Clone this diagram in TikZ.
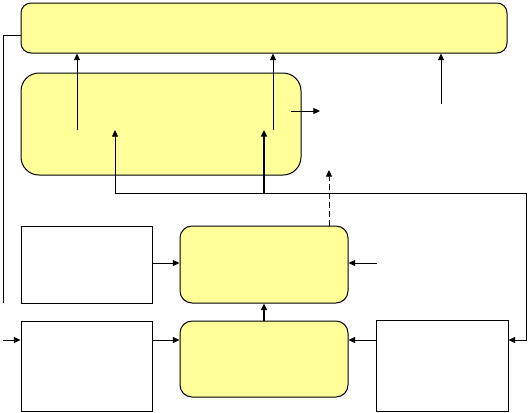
\documentclass[tikz,border=0pt]{standalone}
\usetikzlibrary{arrows.meta}
\definecolor{boxyellow}{RGB}{255,255,153}
\begin{document}
\begin{tikzpicture}[x=0.75pt,y=-0.75pt,
  line width=0.75pt,
  arr/.style={-{Triangle[length=5pt,width=4.5pt]}},
  ybox/.style={draw, fill=boxyellow, line width=0.75pt, inner sep=0pt},
  wbox/.style={draw, fill=white, line width=0.75pt, inner sep=0pt},
  dsh/.style={dash pattern=on 4.5pt off 2.25pt}]
\useasboundingbox (0,0) rectangle (528,412);
% boxes
\node[ybox, rounded corners=7.5pt, minimum width=364.5pt, minimum height=37.5pt] (T) at (264,28) {};
\node[ybox, rounded corners=13.5pt, minimum width=210pt, minimum height=76.5pt] (M) at (161,124) {};
\node[wbox, minimum width=98.25pt, minimum height=57.75pt] (A) at (86.5,264.5) {};
\node[wbox, minimum width=98.25pt, minimum height=67.5pt] (B) at (86.5,366) {};
\node[ybox, rounded corners=9pt, minimum width=126pt, minimum height=57.75pt] (C) at (264,264.5) {};
\node[ybox, rounded corners=9pt, minimum width=126pt, minimum height=57pt] (D) at (264,359) {};
\node[wbox, minimum width=99pt, minimum height=68.25pt] (E) at (442,365.5) {};
% coordinates
\coordinate (r1) at (0,263);
\coordinate (r2) at (0,340);
\coordinate (inC) at (377,263);
\coordinate (inB) at (3,340);
\coordinate (lb) at (3,303);
\coordinate (lt) at (0,35);
\coordinate (s1) at (77,130);
\coordinate (s2) at (273,130);
\coordinate (s3) at (441,104);
\coordinate (o1) at (291,111);
\coordinate (o2) at (320,111);
\coordinate (tA) at (115,130);
\coordinate (tB) at (264,130);
\coordinate (ja) at (264,193);
\coordinate (jr) at (526,193);
\coordinate (dt) at (329,170);
% connectors
\draw (lb) |- (T.west |- lt);
\draw[arr] (s1) -- (T.south -| s1);
\draw[arr] (s2) -- (T.south -| s2);
\draw[arr] (s3) -- (T.south -| s3);
\draw[arr] (o1) -- (o2);
\draw[arr] (ja) -| (tA);
\draw[arr] (ja) -- (jr) |- (E.east |- r2);
\draw[arr, line width=1.5pt] (ja) -- (tB);
\draw[arr, dsh] (C.north -| dt) -- (dt);
\draw[arr] (A.east |- r1) -- (C.west |- r1);
\draw[arr] (inC) -- (C.east |- inC);
\draw[arr] (B.east |- r2) -- (D.west |- r2);
\draw[arr] (inB) -- (B.west |- inB);
\draw[arr] (E.west |- r2) -- (D.east |- r2);
\draw[arr, line width=1.2pt] (D.north) -- (C.south);
\end{tikzpicture}
\end{document}
